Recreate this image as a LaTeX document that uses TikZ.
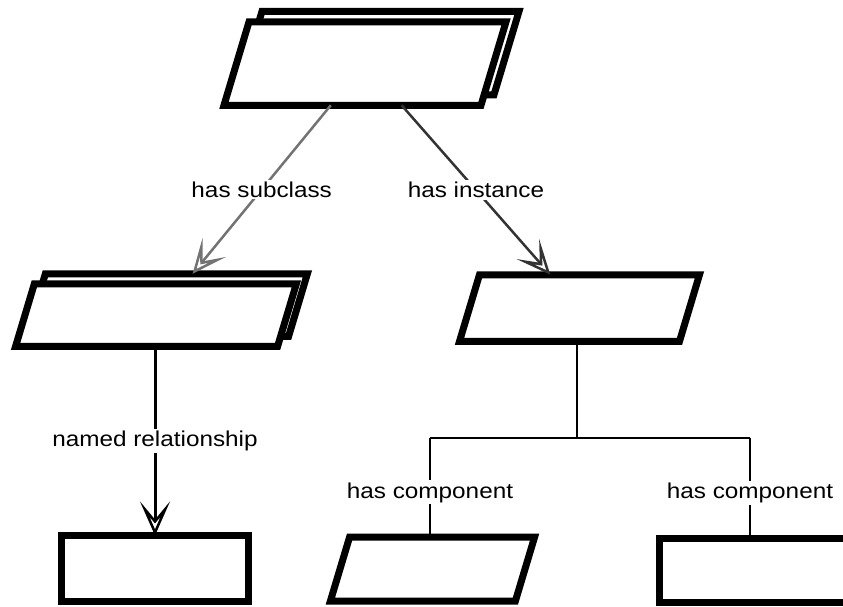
\documentclass[tikz,border=0pt]{standalone}
\usepackage{fontspec}
\setmainfont{Liberation Sans}[FakeStretch=1.13]
\usetikzlibrary{arrows.meta}
\begin{document}
\begin{tikzpicture}[x=1pt,y=-1pt,
  box/.style={draw=black,fill=white,line width=7pt,inner sep=0pt,outer sep=0pt,rectangle},
  slantbox/.style={box,xslant=0.3},
  lbl/.style={fill=white,inner sep=2pt,font=\fontsize{21.5}{25}\selectfont,text=black},
  openhead/.style={-{Stealth[open,length=34pt,width=30pt,inset=18pt,line width=2.5pt]}},
  subline/.style={openhead,draw=black!55,line width=2.5pt},
  instline/.style={openhead,draw=black!80,line width=2.5pt},
  relline/.style={openhead,draw=black,line width=3pt},
  compline/.style={draw=black,line width=2.5pt}]
\useasboundingbox (0,0) rectangle (843,606);
% shadows
\node[slantbox,minimum width=257pt,minimum height=83.5pt] (topB) at (378,53) {};
\node[slantbox,minimum width=257pt,minimum height=83.5pt] (top) at (365,63.5) {};
\node[slantbox,minimum width=262pt,minimum height=62.5pt] (subB) at (167,305) {};
\node[slantbox,minimum width=262pt,minimum height=62.5pt] (sub) at (156,315) {};
\node[slantbox,minimum width=220pt,minimum height=66.5pt] (inst) at (579.5,308) {};
\node[box,minimum width=187pt,minimum height=65.5pt] (rel) at (155,568.25) {};
\node[slantbox,minimum width=185pt,minimum height=64pt] (comp1) at (432.5,569) {};
\node[box,minimum width=240pt,minimum height=64pt] (comp2) at (779.5,570) {};
% connectors
\draw[subline] (top) -- node[lbl] {has subclass} (subB);
\draw[instline] (top) -- node[lbl] {has instance} (inst);
\draw[relline] (rel.north |- sub.south) -- node[lbl] {named relationship} (rel.north);
\coordinate (branch) at (577,438);
\coordinate (bl) at (430,438);
\coordinate (br) at (750,438);
\draw[compline] (inst.south -| branch) -- (branch);
\draw[compline] (bl) -- (br);
\draw[compline] (bl) -- node[lbl,pos=0.55] {has component} (bl |- comp1.north);
\draw[compline] (br) -- node[lbl,pos=0.55] {has component} (br |- comp2.north);
\end{tikzpicture}
\end{document}
